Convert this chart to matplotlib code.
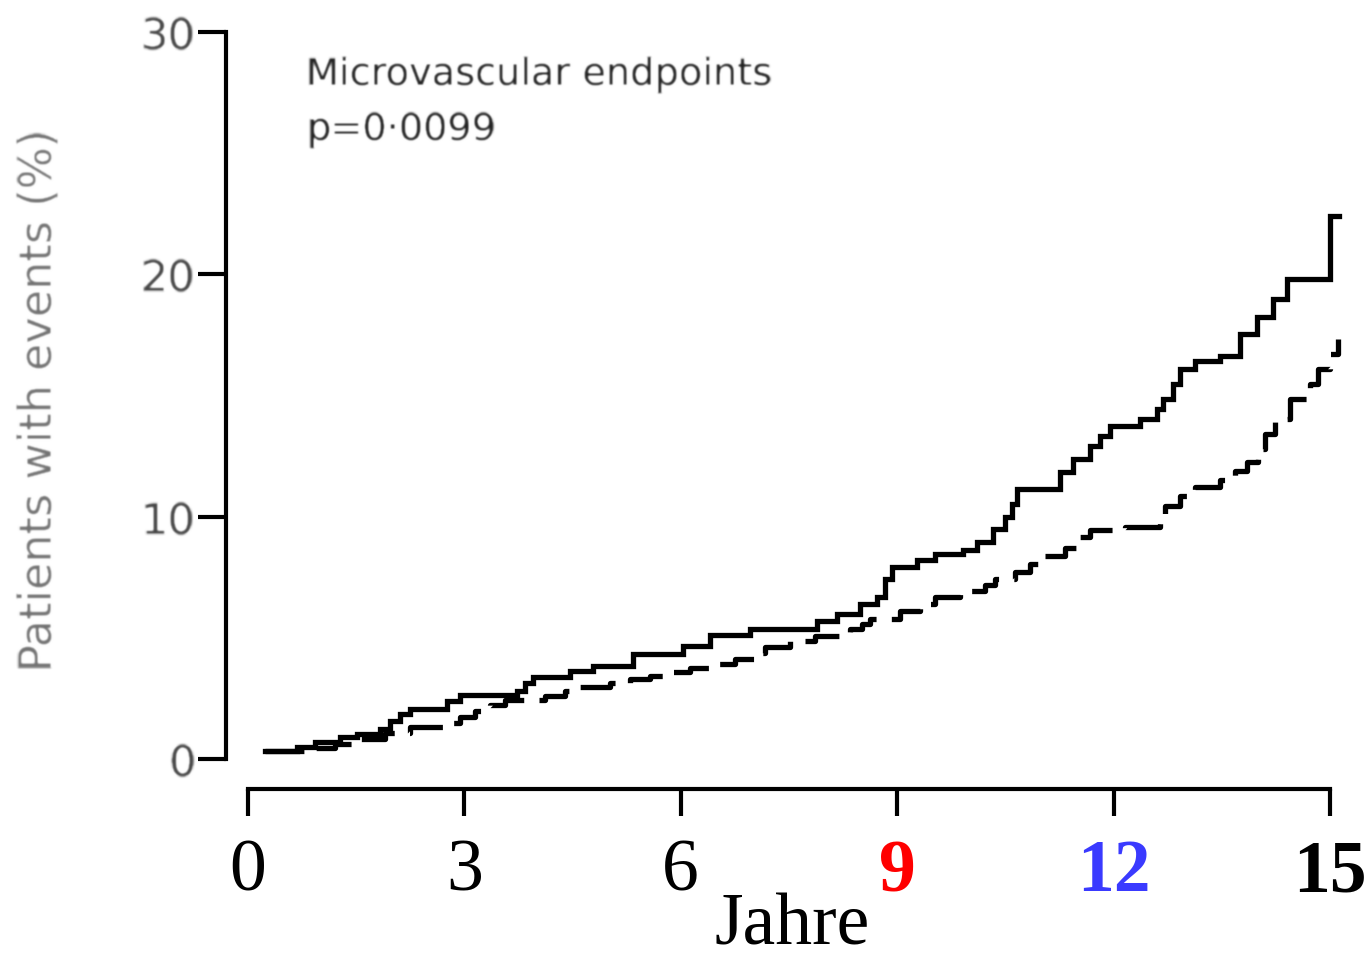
import matplotlib
matplotlib.use("Agg")
import matplotlib.pyplot as plt
import numpy as np

# Cumulative incidence (%) of microvascular endpoints by year
years_intensive = [0.24, 0.68, 0.93, 1.28, 1.51, 1.83, 1.97, 2.11, 2.25, 2.76,
                   2.94, 3.73, 3.84, 3.95, 4.46, 4.78, 5.34, 6.03, 6.41, 6.96,
                   7.89, 8.17, 8.48, 8.72, 8.83, 8.93, 9.27, 9.52, 9.91, 10.11,
                   10.33, 10.50, 10.59, 10.66, 11.26, 11.44, 11.67, 11.81, 11.95, 12.37,
                   12.60, 12.69, 12.82, 12.92, 13.13, 13.48, 13.75, 13.99, 14.21, 14.40,
                   15.00, 15.12]
events_intensive = [0.33, 0.50, 0.70, 0.91, 1.03, 1.24, 1.57, 1.86, 2.06, 2.39,
                    2.64, 2.81, 3.14, 3.38, 3.63, 3.84, 4.33, 4.66, 5.12, 5.37,
                    5.70, 5.98, 6.40, 6.69, 7.43, 7.92, 8.21, 8.46, 8.63, 8.96,
                    9.49, 9.99, 10.52, 11.14, 11.84, 12.38, 12.92, 13.33, 13.74, 14.03,
                    14.44, 14.86, 15.48, 16.10, 16.43, 16.63, 17.54, 18.24, 18.98, 19.81,
                    22.41, 22.41]

years_conventional = [0.24, 0.86, 1.21, 1.55, 1.90, 2.25, 2.73, 2.94, 3.15, 3.36,
                      3.56, 4.12, 4.39, 4.60, 5.02, 5.30, 5.57, 5.85, 6.13, 6.41,
                      6.75, 7.03, 7.17, 7.51, 7.86, 8.35, 8.51, 8.62, 9.04, 9.32,
                      9.52, 9.87, 10.22, 10.36, 10.63, 10.84, 10.98, 11.33, 11.51, 11.67,
                      12.16, 12.64, 12.71, 12.92, 13.13, 13.48, 13.68, 13.85, 14.00, 14.10,
                      14.24, 14.45, 14.72, 14.83, 15.00, 15.11]
events_conventional = [0.33, 0.45, 0.62, 0.83, 1.07, 1.32, 1.49, 1.73, 1.98, 2.23,
                       2.43, 2.60, 2.81, 2.97, 3.14, 3.30, 3.43, 3.59, 3.76, 3.92,
                       4.13, 4.37, 4.62, 4.87, 5.08, 5.37, 5.57, 5.78, 6.11, 6.40,
                       6.69, 6.93, 7.18, 7.43, 7.72, 8.05, 8.38, 8.71, 9.16, 9.45,
                       9.57, 9.82, 10.44, 10.85, 11.23, 11.51, 11.89, 12.26, 12.79, 13.41,
                       14.03, 14.86, 15.48, 16.10, 16.71, 17.33]

x_ticks = [0, 3, 6, 9, 12, 15]
x_tick_labels = ["0", "3", "6", "9", "12", "15"]
x_tick_colors = ["black", "black", "black", "#ff0000", "#3a3aff", "black"]
x_tick_weights = ["normal", "normal", "normal", "bold", "bold", "bold"]
y_ticks = [0, 10, 20, 30]
y_tick_labels = ["0", "10", "20", "30"]


def soften(image, dpi, sigma=1.0):
    """Gaussian blur used as an agg filter for the grey panel texts."""
    r = int(3 * sigma) + 1
    k = np.exp(-0.5 * (np.arange(-r, r + 1) / sigma) ** 2)
    k /= k.sum()
    img = np.pad(image, ((r, r), (r, r), (0, 0)))
    img = np.apply_along_axis(lambda v: np.convolve(v, k, mode="same"), 0, img)
    img = np.apply_along_axis(lambda v: np.convolve(v, k, mode="same"), 1, img)
    return img, -r, -r


plt.rcParams["lines.scale_dashes"] = False

fig = plt.figure(figsize=(13.7, 9.62), dpi=100)
ax = fig.add_axes([0.18102, 0.20998, 0.78978, 0.75572])
ax.set_xlim(0, 15)
ax.set_ylim(0, 30)

ax.step(years_intensive, events_intensive, where="post", color="black",
        lw=3.8, clip_on=False, solid_joinstyle="miter")
ax.step(years_conventional, events_conventional, where="post", color="black",
        lw=3.8, clip_on=False, dashes=(28, 11))

for side in ("top", "right"):
    ax.spines[side].set_visible(False)
ax.spines["left"].set_position(("outward", 15.8))
ax.spines["bottom"].set_position(("outward", 21.6))
ax.spines["left"].set_bounds(0, 30)
ax.spines["bottom"].set_bounds(0, 15)
for side in ("left", "bottom"):
    ax.spines[side].set_linewidth(3.0)
    ax.spines[side].set_capstyle("projecting")

ax.set_yticks(y_ticks)
ax.set_yticklabels(y_tick_labels, fontsize=31, color="#444444",
                   family="DejaVu Sans")
for lbl in ax.get_yticklabels():
    lbl.set_agg_filter(soften)
ax.tick_params(axis="y", direction="out", length=20.5, width=3.0, pad=1.5)

ax.set_xticks(x_ticks)
ax.set_xticklabels(x_tick_labels, fontsize=53, family="Liberation Serif")
for lbl, c, w in zip(ax.get_xticklabels(), x_tick_colors, x_tick_weights):
    lbl.set_color(c)
    lbl.set_fontweight(w)
ax.tick_params(axis="x", direction="out", length=19.5, width=3.0, pad=16)

fig.text(792 / 1370, 17 / 962, "Jahre", fontsize=53, family="Liberation Serif",
         ha="center", va="baseline", color="black")

ylab = fig.text(40 / 1370, 1 - 400 / 962, "Patients with events (%)", fontsize=32,
                rotation=90, ha="center", va="center", color="#707070",
                family="DejaVu Sans")
ylab.set_agg_filter(soften)

t1 = fig.text(306 / 1370, 1 - 85 / 962, "Microvascular endpoints", fontsize=27.5,
              ha="left", va="baseline", color="#1e1e1e", family="DejaVu Sans")
t2 = fig.text(306 / 1370, 1 - 140 / 962, "p=0\u00b70099", fontsize=27.5,
              ha="left", va="baseline", color="#1e1e1e", family="DejaVu Sans")
for t in (t1, t2):
    t.set_agg_filter(soften)

fig.savefig("out.png", dpi=100, facecolor="white")
